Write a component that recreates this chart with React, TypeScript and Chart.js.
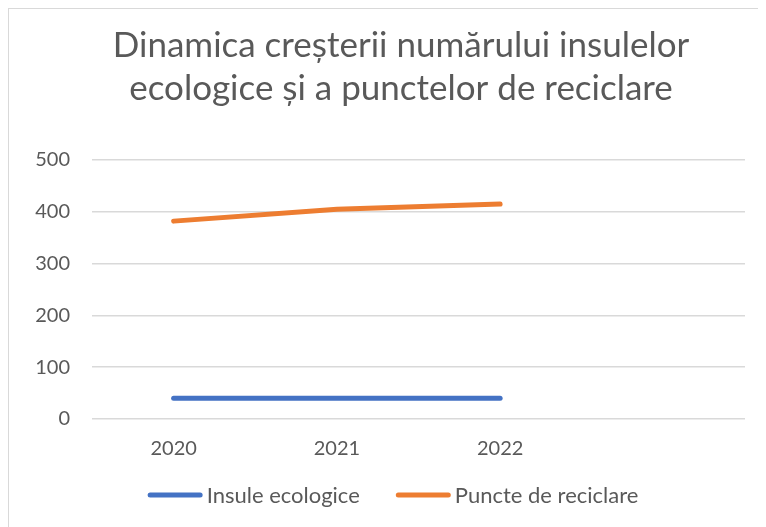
import React, { useEffect, useRef } from "react";
import { Chart, registerables } from "chart.js";

Chart.register(...registerables);

const categories = ["2020", "2021", "2022", ""];
const insuleEcologice = [40, 40, 40, null];
const puncteReciclare = [382, 405, 415, null];
const titleLines = ["Dinamica creșterii numărului insulelor", "ecologice și a punctelor de reciclare"];
const seriesNames = ["Insule ecologice", "Puncte de reciclare"];
const seriesColors = ["#4472C4", "#ED7D31"];

const FONT = "Lato, 'Open Sans', sans-serif";
const TEXT = "#595959";

const titleAndLegend = {
  id: "titleAndLegend",
  afterDraw(chart: any) {
    const ctx = chart.ctx;
    ctx.save();
    // title
    ctx.font = `35px ${FONT}`;
    ctx.fillStyle = TEXT;
    ctx.textAlign = "center";
    ctx.textBaseline = "middle";
    titleLines.forEach((t, i) => ctx.fillText(t, 392, 37 + i * 43));

    // legend
    const size = 22;
    const lineLen = 55;
    const gapAfterLine = 4;
    const gapBetween = 36;
    ctx.font = `${size}px ${FONT}`;
    const items = chart.data.datasets.map((d: any) => ({
      label: d.label,
      color: d.borderColor,
      w: lineLen + gapAfterLine + ctx.measureText(d.label).width,
    }));
    const total = items.reduce((a: number, it: any) => a + it.w, 0) + gapBetween * (items.length - 1);
    let x = 384 - total / 2;
    const y = chart.height - 32;
    ctx.textAlign = "left";
    for (const it of items) {
      ctx.strokeStyle = it.color;
      ctx.lineWidth = 5;
      ctx.lineCap = "round";
      ctx.beginPath();
      ctx.moveTo(x + 2.5, y);
      ctx.lineTo(x + lineLen - 2.5, y);
      ctx.stroke();
      ctx.fillStyle = TEXT;
      ctx.fillText(it.label, x + lineLen + gapAfterLine, y + 1);
      x += it.w + gapBetween;
    }
    ctx.restore();
  },
};

export default function App() {
  const ref = useRef<HTMLCanvasElement>(null);
  useEffect(() => {
    document.body.style.overflow = "hidden";
    const chart = new Chart(ref.current!, {
      type: "line",
      data: {
        labels: categories,
        datasets: [
          {
            label: seriesNames[0],
            data: insuleEcologice,
            borderColor: seriesColors[0],
            backgroundColor: seriesColors[0],
            borderWidth: 5,
            borderCapStyle: "round",
            pointRadius: 0,
            pointHoverRadius: 0,
          },
          {
            label: seriesNames[1],
            data: puncteReciclare,
            borderColor: seriesColors[1],
            backgroundColor: seriesColors[1],
            borderWidth: 5,
            borderCapStyle: "round",
            pointRadius: 0,
            pointHoverRadius: 0,
          },
        ],
      },
      options: {
        animation: false,
        responsive: true,
        maintainAspectRatio: false,
        layout: { padding: { left: 0, right: 21, top: 151, bottom: 56 } },
        plugins: {
          tooltip: { enabled: false },
          legend: { display: false },
          title: { display: false },
        },
        scales: {
          x: {
            offset: true,
            grid: { display: false },
            border: { display: false },
            ticks: {
              color: TEXT,
              font: { family: FONT, size: 20 },
              padding: 10,
              maxRotation: 0,
              autoSkip: false,
            },
          },
          y: {
            min: 0,
            max: 500,
            afterFit: (s: any) => {
              s.width = 83;
            },
            grid: { color: "#d9d9d9", lineWidth: 1.5, drawTicks: false },
            border: { display: false },
            ticks: {
              stepSize: 100,
              color: TEXT,
              font: { family: FONT, size: 20 },
              padding: 22,
            },
          },
        },
      },
      plugins: [titleAndLegend],
    });
    return () => chart.destroy();
  }, []);
  return (
    <div
      style={{
        width: 758,
        height: 519,
        borderTop: "1px solid #d9d9d9",
        borderLeft: "1px solid #d9d9d9",
        boxSizing: "border-box",
        position: "relative",
      }}
    >
      <canvas ref={ref} />
    </div>
  );
}
